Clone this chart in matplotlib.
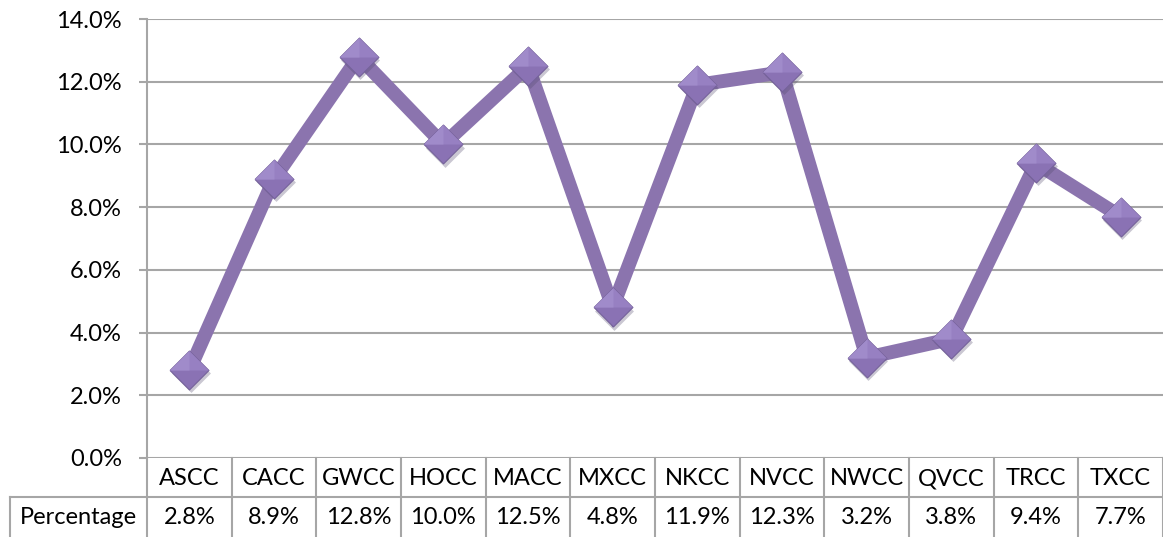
import numpy as np
import matplotlib
matplotlib.use("Agg")
import matplotlib.pyplot as plt
from matplotlib.transforms import blended_transform_factory

plt.rcParams['font.family'] = ['Lato', 'DejaVu Sans']

#-----DATA-----
categories = ["ASCC", "CACC", "GWCC", "HOCC", "MACC", "MXCC",
              "NKCC", "NVCC", "NWCC", "QVCC", "TRCC", "TXCC"]
percentages = [2.8, 8.9, 12.8, 10.0, 12.5, 4.8, 11.9, 12.3, 3.2, 3.8, 9.4, 7.7]
row_label = "Percentage"
yticks = [0, 2, 4, 6, 8, 10, 12, 14]
#-----DATA-----

W, H = 1163, 537
grid_col = "#A6A6A6"
line_col = "#8B74AE"
fs = 17

fig = plt.figure(figsize=(W / 100, H / 100), dpi=100)
ax = fig.add_axes([147 / W, 79 / H, 1 - 147 / W, (458 - 19) / H])

x = np.arange(len(categories))
y = np.array(percentages) / 100

ax.plot(x, y, color=line_col, lw=10, solid_joinstyle="miter", zorder=3)

# diamond markers with a bit of shading
diamond = [(-1, 0), (0, 1), (1, 0), (0, -1), (-1, 0)]
top_half = [(-1, 0), (0, 1), (1, 0), (0, 0), (-1, 0)]
left_q = [(-1, 0), (0, 1), (0, 0), (-1, 0)]
ax.plot(x + 0.02, y - 0.001, ls="none", marker=diamond, ms=28,
        mfc="#50486A", mec="none", alpha=0.3, zorder=4)
ax.plot(x, y, ls="none", marker=diamond, ms=28, mfc="#8A72B4",
        mec="#75629A", mew=0.8, zorder=5)
ax.plot(x, y, ls="none", marker=top_half, ms=28, mfc="#9780C2",
        mec="none", zorder=6)
ax.plot(x, y, ls="none", marker=left_q, ms=28, mfc="#A08BCA",
        mec="none", zorder=7)

ax.set_xlim(-0.5, len(categories) - 0.5)
ax.set_ylim(0, 0.14)
ax.set_yticks([t / 100 for t in yticks])
ax.set_yticklabels(["{:.1f}%".format(t) for t in yticks])
ax.yaxis.grid(True, color=grid_col, lw=1.5)
ax.set_axisbelow(True)
ax.set_xticks([])
ax.tick_params(axis="y", length=6, width=1.5, color=grid_col, pad=12,
               labelsize=fs, labelcolor="black")
for s in ["top", "right", "bottom"]:
    ax.spines[s].set_visible(False)
ax.spines["left"].set_color(grid_col)
ax.spines["left"].set_linewidth(1.5)

# data table under the chart
ah = 458 - 19
r1 = -39 / ah   # bottom of header row (axes fraction)
r2 = -80 / ah   # bottom of data row
lbl_left = -(147 - 10) / (W - 147) * len(categories) - 0.5
trans = blended_transform_factory(ax.transData, ax.transAxes)
lk = dict(color=grid_col, lw=1.5, transform=trans, clip_on=False)

ax.plot([-0.5, -0.5], [0, r2], **lk)
for i in range(1, len(categories) + 1):
    ax.plot([i - 0.5, i - 0.5], [0, r2], **lk)
ax.plot([lbl_left, len(categories) - 0.5], [r1, r1], **lk)
ax.plot([lbl_left, lbl_left], [r1, r2], **lk)

for i, (c, p) in enumerate(zip(categories, percentages)):
    ax.text(i, r1 / 2 - 0.003, c, ha="center", va="center", fontsize=fs,
            transform=trans)
    ax.text(i, (r1 + r2) / 2, "{:.1f}%".format(p), ha="center", va="center",
            fontsize=fs, transform=trans)
ax.text((lbl_left - 0.5) / 2, (r1 + r2) / 2, row_label, ha="center",
        va="center", fontsize=fs, transform=trans)

plt.savefig("out.png", dpi=100)
